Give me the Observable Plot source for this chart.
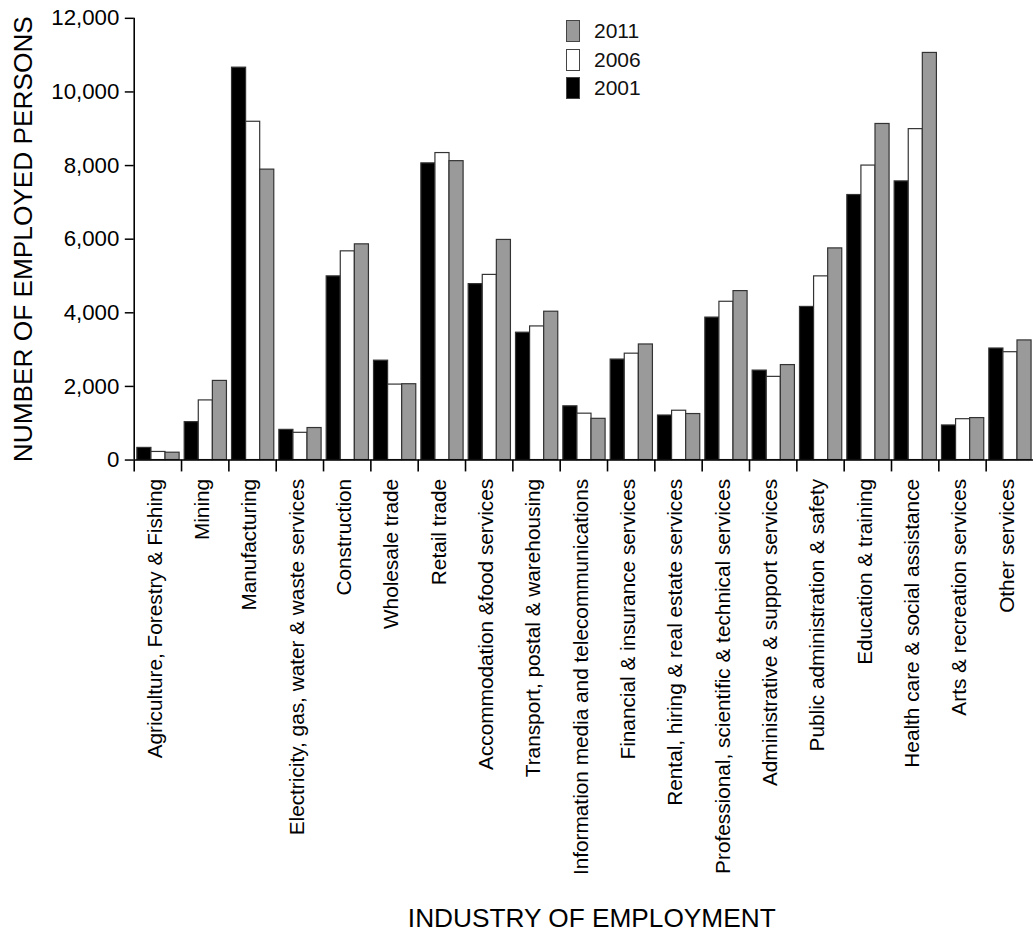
<!DOCTYPE html>
<html>
<head>
<meta charset="utf-8">
<script src="https://cdn.jsdelivr.net/npm/d3@7"></script>
<script src="https://cdn.jsdelivr.net/npm/@observablehq/plot@0.6"></script>
<style>
  html, body { margin: 0; padding: 0; background: #fff; }
  #wrap { position: relative; width: 1034px; height: 935px; overflow: hidden; font-family: 'Liberation Sans', Arial, Helvetica, sans-serif; }
  #legend { position: absolute; left: 566px; top: 20px; }
  .row { display: flex; align-items: center; height: 22px; margin-bottom: 6.5px; }
  .sw { width: 12px; height: 20px; border: 1.4px solid #444; margin-right: 14px; }
  .lab { font-size: 21px; color: #111; line-height: 22px; }
</style>
</head>
<body>
<div id="wrap"><div id="legend"></div></div>
<script>
const industries = [
  "Agriculture, Forestry & Fishing",
  "Mining",
  "Manufacturing",
  "Electricity, gas, water & waste services",
  "Construction",
  "Wholesale trade",
  "Retail trade",
  "Accommodation &food services",
  "Transport, postal & warehousing",
  "Information media and telecommunications",
  "Financial & insurance services",
  "Rental, hiring & real estate services",
  "Professional, scientific & technical services",
  "Administrative & support services",
  "Public administration & safety",
  "Education & training",
  "Health care & social assistance",
  "Arts & recreation services",
  "Other services"
];
const years = ["2001", "2006", "2011"];
const v2001 = [330, 1030, 10660, 820, 4990, 2700, 8060, 4780, 3460, 1460, 2730, 1210, 3870, 2430, 4160, 7200, 7570, 940, 3030];
const v2006 = [220, 1620, 9190, 740, 5670, 2050, 8340, 5030, 3630, 1260, 2890, 1340, 4300, 2260, 4990, 8000, 8990, 1110, 2930];
const v2011 = [200, 2150, 7890, 870, 5860, 2060, 8120, 5980, 4030, 1120, 3140, 1250, 4590, 2580, 5750, 9130, 11060, 1140, 3250];
const yTicks = [0, 2000, 4000, 6000, 8000, 10000, 12000];
const yearColors = ["#000000", "#ffffff", "#9a9a9a"];

const seriesByYear = {"2001": v2001, "2006": v2006, "2011": v2011};
const rows = industries.flatMap((ind, i) =>
  years.map(y => ({industry: ind, year: y, value: seriesByYear[y][i]}))
);

const W = 1044, ML = 135, MR = 1;
const bw = (W - ML - MR) / industries.length;

const chart = Plot.plot({
  width: W,
  height: 935,
  marginLeft: ML,
  marginRight: MR,
  marginTop: 18,
  marginBottom: 471,
  style: {fontFamily: "'Liberation Sans', Arial, Helvetica, sans-serif", color: "#000", background: "#fff", overflow: "visible"},
  fx: {domain: industries, paddingInner: 0, paddingOuter: 0, round: false, label: "INDUSTRY OF EMPLOYMENT"},
  x: {domain: years, paddingInner: 0, paddingOuter: 0.18, align: 0.62, round: false, axis: null},
  y: {domain: [0, 12000], label: "NUMBER OF EMPLOYED PERSONS"},
  color: {domain: years, range: yearColors},
  marks: [
    Plot.barY(rows, {fx: "industry", x: "year", y: "value", fill: "year", stroke: "#333", strokeWidth: 1.2}),
    Plot.ruleY([0], {stroke: "#000", strokeWidth: 1.6}),
    Plot.ruleX([industries[0]], {fx: d => d, x: null, y1: 0, y2: 12000, dx: -bw / 2, stroke: "#000", strokeWidth: 1.6}),
    Plot.axisY({ticks: yTicks, tickFormat: d3.format(","), tickSize: 9, tickPadding: 6, fontSize: 22.5, strokeWidth: 1.5,
      label: "NUMBER OF EMPLOYED PERSONS", labelAnchor: "center", labelArrow: "none", labelOffset: 122}),
    Plot.axisFx({anchor: "bottom", tickSize: 12, tickFormat: () => "", dx: -bw / 2, label: null, strokeWidth: 1.6}),
    Plot.axisFx({anchor: "bottom", tickSize: 0, tickPadding: 19, tickRotate: -90, fontSize: 21, dx: -3,
      label: "INDUSTRY OF EMPLOYMENT", labelAnchor: "center", labelArrow: "none", labelOffset: 471})
  ]
});

d3.select(chart).selectAll('[aria-label="y-axis label"], [aria-label="fx-axis label"]').attr("font-size", 26.5);
d3.select(chart).selectAll('[aria-label="y-axis label"] text, [aria-label="fx-axis label"] text').attr("font-size", 26.5);
d3.select(chart).selectAll('[aria-label="fx-axis label"]').each(function() {
  const g = d3.select(this);
  g.attr("transform", ((g.attr("transform") || "") + " translate(8,0)").trim());
});

document.getElementById("wrap").prepend(chart);

const legend = d3.select("#legend");
years.slice().reverse().forEach(y => {
  const r = legend.append("div").attr("class", "row");
  r.append("div").attr("class", "sw").style("background", yearColors[years.indexOf(y)]);
  r.append("div").attr("class", "lab").text(y);
});
</script>
</body>
</html>
